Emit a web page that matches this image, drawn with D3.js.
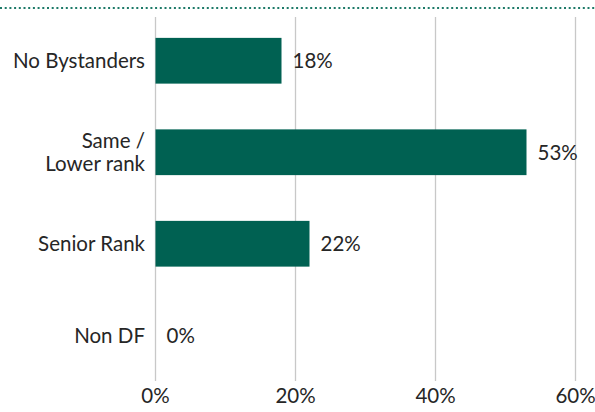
<!DOCTYPE html>
<html>
<head>
<meta charset="utf-8">
<script src="https://cdn.jsdelivr.net/npm/d3@7"></script>
<style>
  body { margin: 0; background: #fff; }
  svg text { font-family: Lato, "Noto Sans", sans-serif; fill: #262626; }
</style>
</head>
<body>
<div id="chart"></div>
<script>
var categories = [["No Bystanders"], ["Same /", "Lower rank"], ["Senior Rank"], ["Non DF"]];
var values = [18, 53, 22, 0];
var tickValues = [0, 20, 40, 60];

var w = 595, h = 412;
var fs = "20.5px";
var svg = d3.select("#chart").append("svg").attr("width", w).attr("height", h);

var x = d3.scaleLinear().domain([0, 60]).range([155.5, 575.5]);
var y = d3.scaleBand().domain(d3.range(categories.length)).range([15, 381]).paddingInner(0.5).paddingOuter(0.25);

// dotted rule at the top
svg.append("line")
    .attr("x1", 0).attr("x2", w)
    .attr("y1", 8).attr("y2", 8)
    .attr("stroke", "#1d7a68")
    .attr("stroke-width", 2)
    .attr("stroke-dasharray", "2,2.7");

// gridlines
svg.append("g").selectAll("line")
    .data(tickValues)
    .join("line")
    .attr("x1", d => x(d)).attr("x2", d => x(d))
    .attr("y1", 17).attr("y2", 381)
    .attr("stroke", "#c8c8c8")
    .attr("stroke-width", 1.3);

// x tick labels
svg.append("g").selectAll("text")
    .data(tickValues)
    .join("text")
    .attr("x", d => x(d))
    .attr("y", 403)
    .attr("text-anchor", "middle")
    .style("font-size", fs)
    .text(d => d + "%");

// bars
svg.append("g").selectAll("rect")
    .data(values)
    .join("rect")
    .attr("x", x(0))
    .attr("y", (d, i) => y(i))
    .attr("width", d => x(d) - x(0))
    .attr("height", y.bandwidth())
    .attr("fill", "#006152");

// value labels
svg.append("g").selectAll("text")
    .data(values)
    .join("text")
    .attr("x", d => x(d) + 11)
    .attr("y", (d, i) => y(i) + y.bandwidth() / 2 + 7.5)
    .style("font-size", fs)
    .text(d => d + "%");

// category labels
var cat = svg.append("g").selectAll("text")
    .data(categories)
    .join("text")
    .attr("text-anchor", "end")
    .attr("y", (d, i) => y(i) + y.bandwidth() / 2 + 7.5 - (d.length - 1) * 11.5)
    .style("font-size", fs);

cat.selectAll("tspan")
    .data(d => d)
    .join("tspan")
    .attr("x", 145)
    .attr("dy", (d, i) => i ? 23 : 0)
    .text(d => d);
</script>
</body>
</html>
